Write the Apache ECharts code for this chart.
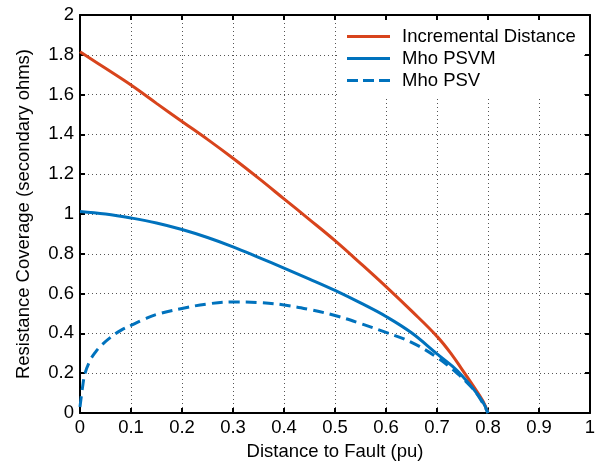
<!DOCTYPE html>
<html><head><meta charset="utf-8">
<script src="https://cdn.jsdelivr.net/npm/echarts@6/dist/echarts.min.js"></script>
<style>html,body{margin:0;padding:0;background:#fff}#c{width:602px;height:466px}</style>
</head><body><div id="c"></div>
<script>
var seriesNames = ['Incremental Distance', 'Mho PSVM', 'Mho PSV'];
var incX = [0, 0.05, 0.1, 0.15, 0.2, 0.25, 0.3, 0.35, 0.4, 0.45, 0.5, 0.55, 0.6, 0.65, 0.7, 0.73, 0.75, 0.77, 0.79, 0.8];
var incY = [1.815, 1.732, 1.648, 1.556, 1.465, 1.375, 1.28, 1.18, 1.076, 0.972, 0.866, 0.752, 0.635, 0.513, 0.385, 0.29, 0.215, 0.14, 0.06, 0];
var psvmX = [0, 0.05, 0.1, 0.15, 0.2, 0.25, 0.3, 0.35, 0.4, 0.45, 0.5, 0.55, 0.6, 0.65, 0.7, 0.73, 0.75, 0.77, 0.79, 0.8];
var psvmY = [1.013, 1.0, 0.98, 0.955, 0.922, 0.882, 0.835, 0.782, 0.728, 0.673, 0.616, 0.553, 0.485, 0.403, 0.297, 0.235, 0.185, 0.125, 0.055, 0];
var psvX = [0, 0.005, 0.01, 0.02, 0.03, 0.04, 0.06, 0.08, 0.1, 0.125, 0.15, 0.2, 0.25, 0.3, 0.35, 0.4, 0.45, 0.5, 0.55, 0.6, 0.65, 0.7, 0.73, 0.76, 0.78, 0.8];
var psvY = [0.03, 0.13, 0.2, 0.265, 0.305, 0.335, 0.38, 0.415, 0.44, 0.47, 0.495, 0.525, 0.548, 0.558, 0.555, 0.543, 0.52, 0.49, 0.45, 0.405, 0.355, 0.28, 0.22, 0.15, 0.09, 0];

function pairs(xs, ys) { return xs.map(function (x, i) { return [x, ys[i]]; }); }

var font = 'Liberation Sans, Arial, Helvetica, sans-serif';
var fs = 18.5;
var red = '#D8441C', blue = '#0072BD';
var solidIcon = 'path://M0,0H43V3H0Z';
var dashIcon = 'path://M0,0H11V3H0Z M16,0H27V3H16Z M32,0H43V3H32Z';
var chart = echarts.init(document.getElementById('c'), null, {renderer: 'canvas'});
var axisCommon = {
  axisLine: {show: true, onZero: false, lineStyle: {color: '#000', width: 2}},
  axisTick: {show: true, inside: true, length: 5, lineStyle: {color: '#000', width: 2}}
};
chart.setOption({
  animation: false,
  backgroundColor: '#fff',
  grid: {left: 80, right: 12, top: 15, bottom: 51, containLabel: false},
  legend: {
    left: 337, top: 20, orient: 'vertical', itemGap: 1, itemWidth: 43, itemHeight: 3,
    backgroundColor: '#fff', padding: [6, 8, 5, 10],
    textStyle: {fontSize: fs, fontFamily: font, color: '#000', lineHeight: 21, padding: [0, 0, 0, 7]},
    data: [
      {name: seriesNames[0], icon: solidIcon},
      {name: seriesNames[1], icon: solidIcon},
      {name: seriesNames[2], icon: dashIcon}
    ]
  },
  xAxis: [
    Object.assign({}, axisCommon, {
      type: 'value', min: 0, max: 1, interval: 0.1, position: 'bottom',
      name: 'Distance to Fault (pu)', nameLocation: 'middle', nameGap: 29,
      nameTextStyle: {fontSize: fs, fontFamily: font, color: '#000'},
      axisLabel: {color: '#000', fontSize: fs, fontFamily: font, margin: 5},
      splitLine: {show: true, lineStyle: {color: '#555', type: [1, 3], width: 1}}
    }),
    Object.assign({}, axisCommon, {
      type: 'value', min: 0, max: 1, interval: 0.1, position: 'top',
      axisLabel: {show: false}, splitLine: {show: false}
    })
  ],
  yAxis: [
    Object.assign({}, axisCommon, {
      type: 'value', min: 0, max: 2, interval: 0.2, position: 'left',
      name: 'Resistance Coverage (secondary ohms)', nameLocation: 'middle', nameGap: 47,
      nameTextStyle: {fontSize: fs, fontFamily: font, color: '#000'},
      axisLabel: {color: '#000', fontSize: fs, fontFamily: font, margin: 6},
      splitLine: {show: true, lineStyle: {color: '#555', type: [1, 3], width: 1}}
    }),
    Object.assign({}, axisCommon, {
      type: 'value', min: 0, max: 2, interval: 0.2, position: 'right',
      axisLabel: {show: false}, splitLine: {show: false}
    })
  ],
  series: [
    {name: seriesNames[0], type: 'line', data: pairs(incX, incY), showSymbol: false, symbol: 'none', smooth: 0.4,
     lineStyle: {color: red, width: 3}, itemStyle: {color: red}, z: 3},
    {name: seriesNames[1], type: 'line', data: pairs(psvmX, psvmY), showSymbol: false, symbol: 'none', smooth: 0.4,
     lineStyle: {color: blue, width: 3}, itemStyle: {color: blue}, z: 4},
    {name: seriesNames[2], type: 'line', data: pairs(psvX, psvY), showSymbol: false, symbol: 'none', smooth: 0.4,
     lineStyle: {color: blue, width: 3, type: [11, 6]}, itemStyle: {color: blue}, z: 4}
  ]
});
</script></body></html>
